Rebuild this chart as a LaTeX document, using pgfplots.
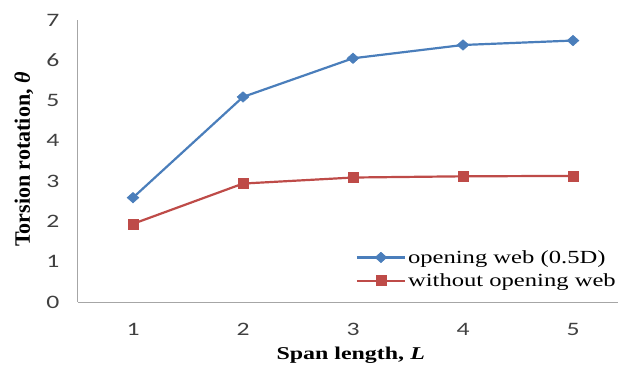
\documentclass[border=0pt]{standalone}
\usepackage{fontspec}
\usepackage{pgfplots}
\pgfplotsset{compat=1.18}
\setmainfont{Liberation Serif}[FakeStretch=1.33]
\newfontfamily\ticksfont{Carlito}[FakeStretch=1.35]
\newfontfamily\ylabfont{Liberation Serif}
\definecolor{ser1}{HTML}{4A7EBB}
\definecolor{ser2}{HTML}{BE4B48}
\begin{document}
\begin{tikzpicture}
\useasboundingbox (-78pt,-68pt) rectangle (540pt,302pt);
\begin{axis}[
  at={(0,0)}, anchor=south west,
  scale only axis, width=540pt, height=282pt,
  xmin=0.5, xmax=5.409, ymin=0, ymax=7,
  xtick={1,2,3,4,5}, ytick={0,1,...,7},
  major tick length=0pt,
  axis x line*=bottom, axis y line*=left,
  axis line style={draw=black!35, line width=1pt, -},
  /pgf/number format/assume math mode=true,
  tick label style={font=\ticksfont\fontsize{19}{22}\selectfont, text=black!75},
  yticklabel style={xshift=-15pt},
  xticklabel style={yshift=-18pt},
  xlabel={\textbf{Span length, \textit{L}}},
  ylabel={\ylabfont\textbf{Torsion rotation, \textit{θ}}},
  xlabel style={font=\fontsize{18}{21}\selectfont, at={(axis description cs:0.505,-0.19)}, anchor=center},
  ylabel style={font=\fontsize{22}{25}\selectfont, at={(axis description cs:-0.10,0.505)}, anchor=center},
  legend style={at={(1.0,0.035)}, anchor=south east, draw=none, fill=none,
    font=\fontsize{18.5}{21}\selectfont, row sep=5pt, inner xsep=0pt,
    /tikz/every even column/.append style={column sep=2pt}},
  legend cell align=left,
  legend image code/.code={\draw[mark repeat=2,mark phase=2,#1,line width=2.2pt] plot coordinates {(0pt,0pt) (24pt,0pt) (48pt,0pt)};},
]
\addplot[color=ser1, line width=2.2pt, mark=diamond*, mark size=5.2pt, mark options={fill=ser1, draw=ser1, line width=0.6pt, xscale=1.5}]
  coordinates {(1,2.59) (2,5.09) (3,6.05) (4,6.38) (5,6.49)};
\addlegendentry{opening web (0.5D)}
\addplot[color=ser2, line width=2.2pt, mark=square*, mark size=5pt, mark options={fill=ser2, draw=ser2, line width=0.6pt}]
  coordinates {(1,1.94) (2,2.94) (3,3.09) (4,3.12) (5,3.13)};
\addlegendentry{without opening web}
\end{axis}
\end{tikzpicture}
\end{document}
